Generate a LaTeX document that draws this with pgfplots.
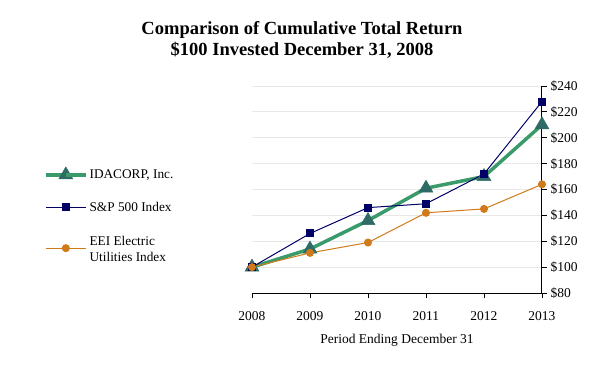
\documentclass[border=0pt]{standalone}
\usepackage{fontspec}
\setmainfont{Liberation Serif}
\usepackage{pgfplots}
\pgfplotsset{compat=1.18}
\definecolor{idagreen}{HTML}{3A9A6A}
\definecolor{idamark}{HTML}{2E6B66}
\definecolor{spnavy}{HTML}{000066}
\definecolor{eeiorange}{HTML}{D07A1A}
\begin{document}
\begin{tikzpicture}[x=1pt,y=1pt]
\useasboundingbox (0,0) rectangle (614,376);
\node[font=\fontsize{18.5}{21}\selectfont\bfseries, align=center] at (302,336) {Comparison of Cumulative Total Return\\\$100 Invested December 31, 2008};
\begin{axis}[
  at={(252pt,83pt)}, anchor=south west,
  scale only axis, width=290pt, height=207pt,
  xmin=2008, xmax=2013, ymin=80, ymax=240,
  axis x line=bottom, axis y line=right,
  axis line style={-, black, line width=1pt},
  xtick={2008,2009,2010,2011,2012,2013},
  xticklabel style={/pgf/number format/1000 sep=, yshift=-10pt},
  ytick={80,100,...,240},
  yticklabel={\$\pgfmathprintnumber{\tick}},
  tick align=outside,
  major tick length=5pt,
  tick style={black, line width=0.8pt},
  ymajorgrids, grid style={gray!18, line width=0.8pt},
  tick label style={font=\fontsize{13.5}{15}\selectfont},
  /pgf/number format/assume math mode=true,
  xlabel={Period Ending December 31},
  xlabel style={font=\fontsize{13.5}{15}\selectfont, yshift=-7pt},
  clip=false,
  legend style={draw=none, fill=none, at={(rel axis cs:-0.728,0.62)}, anchor=north west,
    font=\fontsize{13.3}{15}\selectfont, row sep=18pt, cells={anchor=west}},
  legend cell align=left,
  legend image code/.code={\draw[#1] (0pt,0pt) -- (20pt,0pt); \draw[#1] plot coordinates {(20pt,0pt)}; \draw[#1] (20pt,0pt) -- (40pt,0pt);},
]
\addplot[idagreen, line width=3.5pt, mark=triangle*, mark size=8pt, mark options={fill=idamark, draw=idamark, line width=0.5pt}]
  coordinates {(2008,100) (2009,114) (2010,136) (2011,161) (2012,170) (2013,210)};
\addlegendentry{IDACORP, Inc.}
\addplot[spnavy, line width=1pt, mark=square*, mark size=3.5pt, mark options={fill=spnavy}]
  coordinates {(2008,100) (2009,126) (2010,146) (2011,149) (2012,172) (2013,228)};
\addlegendentry{S\&P 500 Index}
\addplot[eeiorange, line width=1pt, mark=*, mark size=3.5pt, mark options={fill=eeiorange}]
  coordinates {(2008,100) (2009,111) (2010,119) (2011,142) (2012,145) (2013,164)};
\addlegendentry{\raisebox{6pt}{\begin{tabular}{@{}l@{}}EEI Electric\\[1.5pt]Utilities Index\end{tabular}}}
\end{axis}
\end{tikzpicture}
\end{document}
